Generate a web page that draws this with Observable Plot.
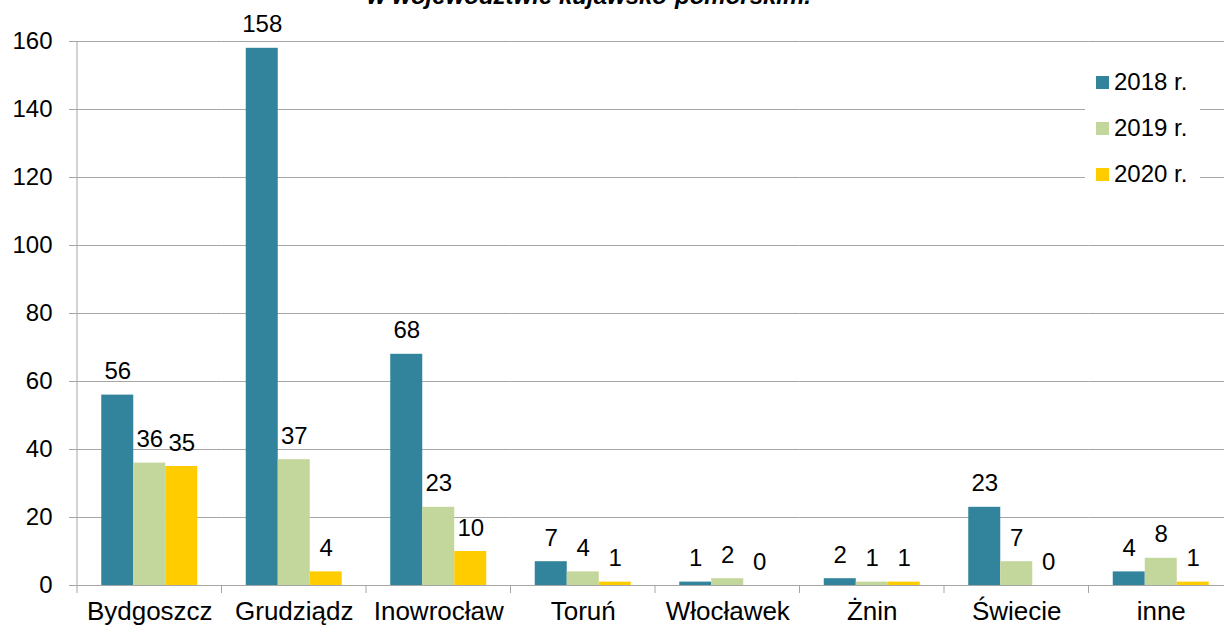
<!DOCTYPE html>
<html><head><meta charset="utf-8">
<script src="https://cdn.jsdelivr.net/npm/d3@7"></script>
<script src="https://cdn.jsdelivr.net/npm/@observablehq/plot@0.6"></script>
<style>
html,body{margin:0;padding:0;overflow:hidden;background:#fff;}
#wrap{position:relative;width:1240px;height:629px;font-family:"Liberation Sans",Arial,sans-serif;}
#title{position:absolute;left:0;top:-16px;width:1178px;text-align:center;font:italic bold 24px/24px "Liberation Sans",Arial,sans-serif;color:#000;white-space:nowrap;}
#legend{position:absolute;left:1085px;top:59px;width:115px;background:#fff;}
.row{display:flex;align-items:center;height:46px;padding-left:11px;font-size:24px;color:#000;}
.sw{width:13px;height:13px;margin-right:5px;}
</style>
</head><body>
<div id="wrap"></div>
<script>
const cities = ["Bydgoszcz","Grudziądz","Inowrocław","Toruń","Włocławek","Żnin","Świecie","inne"];
const years = ["2018 r.","2019 r.","2020 r."];
const v2018 = [56,158,68,7,1,2,23,4];
const v2019 = [36,37,23,4,2,1,7,8];
const v2020 = [35,4,10,1,0,1,0,1];
const colors = ["#31849b","#c3d69b","#ffcc00"];
const yTicks = [0,20,40,60,80,100,120,140,160];
const titleText = "w województwie kujawsko-pomorskim.";

const series = [v2018, v2019, v2020];
const data = [];
cities.forEach((c, i) => years.forEach((y, j) => data.push({city: c, year: y, value: series[j][i]})));

const plot = Plot.plot({
  width: 1240, height: 629,
  marginLeft: 77, marginRight: 7, marginTop: 41, marginBottom: 44,
  style: {fontFamily: "'Liberation Sans', Arial, sans-serif", fontSize: "24px", color: "#000", background: "#fff"},
  fx: {domain: cities, padding: 0, round: false, label: null},
  x: {domain: years, paddingInner: 0, paddingOuter: 0.758, round: false, axis: null},
  y: {domain: [0, 160], label: null},
  color: {domain: years, range: colors},
  marks: [
    Plot.gridY(yTicks, {stroke: "#a6a6a6", strokeOpacity: 1}),
    Plot.axisY(yTicks, {tickSize: 8, text: null, stroke: "#a6a6a6", strokeOpacity: 1, label: null}),
    Plot.axisY(yTicks, {tickSize: 0, tickPadding: 25, fontSize: 24, label: null}),
    Plot.barY(data, {fx: "city", x: "year", y: "value", fill: "year"}),
    Plot.ruleY([0], {stroke: "#a6a6a6"}),
    Plot.text(data, {fx: "city", x: "year", y: "value", text: d => String(d.value), lineAnchor: "bottom", dy: -16, fontSize: 24, fill: "#000"}),
    Plot.axisFx({anchor: "bottom", tickSize: 0, tickPadding: 16, fontSize: 26, label: null})
  ]
});

// category boundary ticks and y axis line, positioned from Plot's own scales
const fxs = plot.scale("fx"), ys = plot.scale("y");
const g = d3.select(plot).append("g").attr("stroke", "#a6a6a6").attr("stroke-width", 1);
const y0 = ys.apply(0);
const bounds = cities.map(c => fxs.apply(c)).concat([fxs.apply(cities[cities.length - 1]) + fxs.bandwidth]);
bounds.forEach(x => g.append("line").attr("x1", x).attr("x2", x).attr("y1", y0).attr("y2", y0 + 8));
g.append("line").attr("x1", bounds[0]).attr("x2", bounds[0]).attr("y1", ys.apply(160)).attr("y2", y0);

const wrap = document.getElementById("wrap");
wrap.appendChild(plot);

const t = document.createElement("div");
t.id = "title"; t.textContent = titleText;
wrap.appendChild(t);

const lg = document.createElement("div");
lg.id = "legend";
years.forEach((y, j) => {
  const r = document.createElement("div"); r.className = "row";
  const s = document.createElement("div"); s.className = "sw"; s.style.background = colors[j];
  const l = document.createElement("span"); l.textContent = y;
  r.appendChild(s); r.appendChild(l); lg.appendChild(r);
});
wrap.appendChild(lg);
</script>
</body></html>
